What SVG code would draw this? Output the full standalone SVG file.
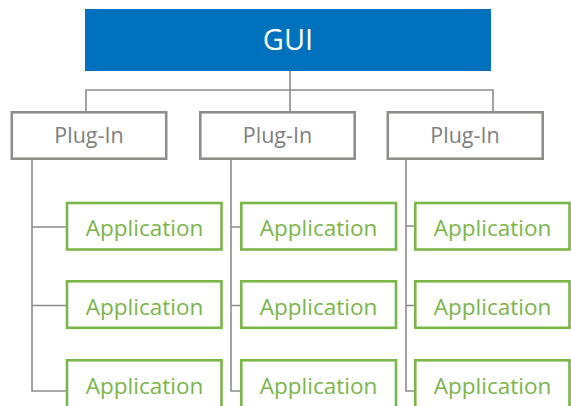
<svg xmlns="http://www.w3.org/2000/svg" width="571" height="406" viewBox="0 0 571 406">
<style>
.plug rect{fill:#fff;stroke:#8e8e8b;stroke-width:2.6}
.plug text{fill:#7f7f7f;font-family:"Open Sans",Lato,sans-serif;font-size:21.5px;text-anchor:middle;dominant-baseline:central}
.app rect{fill:#fff;stroke:#7ab648;stroke-width:2.6}
.app text{fill:#7ab648;font-family:"Open Sans",Lato,sans-serif;font-size:22.5px;text-anchor:middle;dominant-baseline:central}
#connectors path{fill:none;stroke:#8c8c8c;stroke-width:1.6}
</style>
<rect width="571" height="406" fill="#fff"/>
<g id="connectors">
<path d="M290 71V111M86 111V90H493V111"/>
<path d="M32 160V391H66M32 227H66M32 305.5H66"/>
<path d="M231 160V391H240M231 227H240M231 305.5H240"/>
<path d="M406 160V391H414M406 226H414M406 305.5H414"/>
</g>
<g id="gui"><rect x="85" y="9" width="406" height="62" fill="#0071bc"/><text x="288" y="38" fill="#fff" font-family="'Open Sans',Lato,sans-serif" font-size="29" text-anchor="middle" dominant-baseline="central">GUI</text></g>
<g id="plugin1" class="plug"><rect x="11.8" y="112.3" width="154.4" height="46.4"/><text x="89" y="134.5">Plug-In</text></g>
<g id="plugin2" class="plug"><rect x="200.3" y="112.3" width="154.4" height="46.4"/><text x="277.5" y="134.5">Plug-In</text></g>
<g id="plugin3" class="plug"><rect x="387.8" y="112.3" width="154.9" height="46.4"/><text x="465" y="134.5">Plug-In</text></g>
<g id="app11" class="app"><rect x="67" y="203" width="154.5" height="46.5"/><text x="144.5" y="227">Application</text></g>
<g id="app12" class="app"><rect x="67" y="281.3" width="154.5" height="46.5"/><text x="144.5" y="306">Application</text></g>
<g id="app13" class="app"><rect x="67" y="360.3" width="154.5" height="60"/><text x="144.5" y="385">Application</text></g>
<g id="app21" class="app"><rect x="241.3" y="203" width="154.7" height="46.5"/><text x="318.5" y="227">Application</text></g>
<g id="app22" class="app"><rect x="241.3" y="281.3" width="154.7" height="46.5"/><text x="318.5" y="306">Application</text></g>
<g id="app23" class="app"><rect x="241.3" y="360.3" width="154.7" height="60"/><text x="318.5" y="385">Application</text></g>
<g id="app31" class="app"><rect x="415.3" y="203" width="154.2" height="46.5"/><text x="492.5" y="227">Application</text></g>
<g id="app32" class="app"><rect x="415.3" y="281.3" width="154.2" height="46.5"/><text x="492.5" y="306">Application</text></g>
<g id="app33" class="app"><rect x="415.3" y="360.3" width="154.2" height="60"/><text x="492.5" y="385">Application</text></g>
</svg>
